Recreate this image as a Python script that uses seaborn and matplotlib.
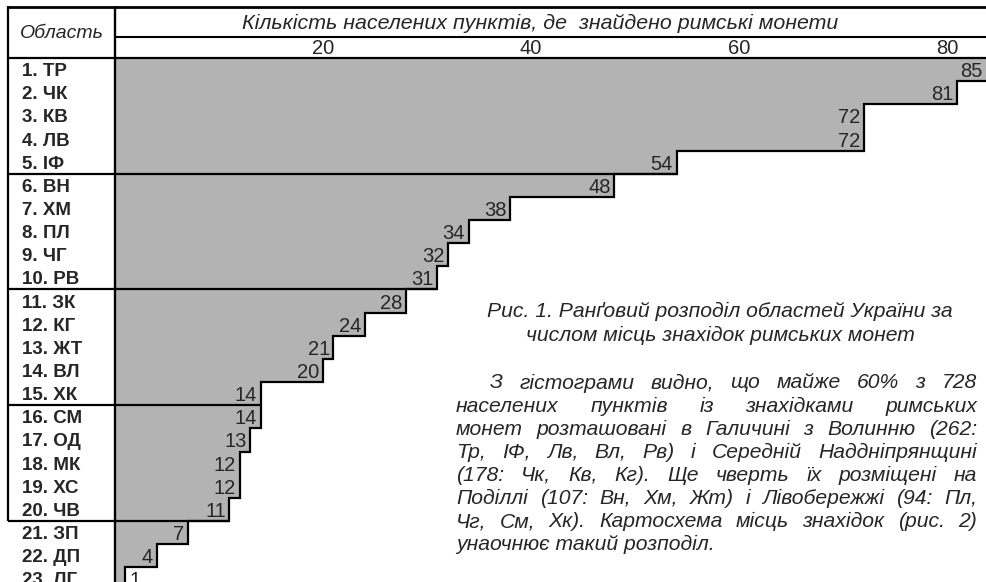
import matplotlib
matplotlib.use("Agg")
import matplotlib.pyplot as plt
import seaborn as sns
import pandas as pd
from matplotlib.lines import Line2D

# ---------------- data ----------------
regions = ["1. ТР", "2. ЧК", "3. КВ", "4. ЛВ", "5. ІФ", "6. ВН", "7. ХМ", "8. ПЛ",
           "9. ЧГ", "10. РВ", "11. ЗК", "12. КГ", "13. ЖТ", "14. ВЛ", "15. ХК",
           "16. СМ", "17. ОД", "18. МК", "19. ХС", "20. ЧВ", "21. ЗП", "22. ДП",
           "23. ЛГ"]
counts = [85, 81, 72, 72, 54, 48, 38, 34, 32, 31, 28, 24, 21, 20, 14, 14, 13, 12,
          12, 11, 7, 4, 1]
x_ticks = [20, 40, 60, 80]
group_ends = [5, 10, 15, 20]
column_title = "Область"
header_title = "Кількість населених пунктів, де  знайдено римські монети"
caption_lines = ["Рис. 1. Ранґовий розподіл областей України за",
                 "числом місць знахідок римських монет"]
paragraph_lines = [
    "З гістограми видно, що майже 60% з 728",
    "населених пунктів із знахідками римських",
    "монет розташовані в Галичині з Волинню (262:",
    "Тр, ІФ, Лв, Вл, Рв) і Середній Наддніпрянщині",
    "(178: Чк, Кв, Кг). Ще чверть їх розміщені на",
    "Поділлі (107: Вн, Хм, Жт) і Лівобережжі (94: Пл,",
    "Чг, См, Хк). Картосхема місць знахідок (рис. 2)",
    "унаочнює такий розподіл.",
]

# ---------------- style ----------------
sns.set_style("white")
plt.rcParams["font.family"] = ["Liberation Sans", "DejaVu Sans"]

W, H = 986, 582
fig = plt.figure(figsize=(W / 100, H / 100), dpi=100)

AX_LEFT, AX_TOP = 115, 58
ROW_PX = 23.15
PX_PER_UNIT = 10.4
ax = fig.add_axes([AX_LEFT / W, 0, (W - AX_LEFT) / W, (H - AX_TOP) / H])

df = pd.DataFrame({"region": regions, "count": counts})
sns.barplot(data=df, y="region", x="count", orient="h", color="#b3b3b3",
            saturation=1, width=1.0, linewidth=0, edgecolor="none", ax=ax)

xmax = (W - AX_LEFT) / PX_PER_UNIT
nrows_visible = (H - AX_TOP) / ROW_PX
ax.set_xlim(0, xmax)
ax.set_ylim(-0.5 + nrows_visible, -0.5)
for s in ax.spines.values():
    s.set_visible(False)
ax.set_xlabel("")
ax.set_ylabel("")

# top ticks in header row
ax.xaxis.tick_top()
ax.set_xticks(x_ticks)
ax.set_xticklabels([str(t) for t in x_ticks], fontsize=14.5)
ax.tick_params(axis="x", length=0, pad=0.3)

# region labels (left column)
ax.set_yticks(range(len(regions)))
ax.set_yticklabels(regions, ha="left", fontsize=13.5, fontweight="bold")
ax.tick_params(axis="y", length=0, pad=(AX_LEFT - 22) * 0.72)

# staircase outline
xs, ys = [], []
for i, v in enumerate(counts):
    xs += [v, v]
    ys += [i - 0.5, i + 0.5]
ax.plot(xs, ys, color="black", lw=1.6, solid_joinstyle="miter", zorder=5)

# group separators
x_left_data = -(AX_LEFT - 8) / PX_PER_UNIT
for g in group_ends:
    ax.plot([x_left_data, counts[g - 1]], [g - 0.5, g - 0.5], color="black",
            lw=1.6, clip_on=False, zorder=5, solid_capstyle="butt")

# value labels
for i, v in enumerate(counts):
    if v * PX_PER_UNIT < 14:
        ax.text(v + 0.35, i, str(v), ha="left", va="center_baseline",
                fontsize=14.5, zorder=6)
    else:
        xpos = min(v, xmax) - 0.35
        ax.text(xpos, i, str(v), ha="right", va="center_baseline",
                fontsize=14.5, zorder=6)


# frame lines in pixel coordinates
def fline(x0, y0, x1, y1, lw=1.5):
    fig.add_artist(Line2D([x0 / W, x1 / W], [1 - y0 / H, 1 - y1 / H],
                          transform=fig.transFigure, color="black", lw=lw,
                          solid_capstyle="butt"))


fline(8, 7, W, 7, lw=2.0)
fline(AX_LEFT, 37, W, 37, lw=1.5)
fline(8, AX_TOP, W, AX_TOP, lw=1.6)
fline(8, 6, 8, AX_TOP + 20 * ROW_PX, lw=1.6)
fline(AX_LEFT, 6, AX_LEFT, H, lw=1.7)

# header texts
fig.text(62 / W, 1 - 33 / H, column_title, ha="center", va="center",
         style="italic", fontsize=14)
fig.text(540 / W, 1 - 23 / H, header_title, ha="center", va="center",
         style="italic", fontsize=15.4)

FS = 15.2
# caption
for k, line in enumerate(caption_lines):
    fig.text(720 / W, 1 - (311 + 24 * k) / H, line, ha="center", va="center",
             style="italic", fontsize=FS)

# justified paragraph
renderer = fig.canvas.get_renderer()
P_LEFT, P_RIGHT, INDENT = 456, 977, 34
for k, line in enumerate(paragraph_lines):
    y = 1 - (383 + 23.1 * k) / H
    x0 = P_LEFT + (INDENT if k == 0 else 0)
    if k == len(paragraph_lines) - 1:
        fig.text(x0 / W, y, line, ha="left", va="center", style="italic",
                 fontsize=FS)
        continue
    words = line.split(" ")
    texts = [fig.text(0, y, w, ha="left", va="center", style="italic",
                      fontsize=FS) for w in words]
    widths = [t.get_window_extent(renderer).width for t in texts]
    gap = (P_RIGHT - x0 - sum(widths)) / (len(words) - 1)
    x = x0
    for t, wd in zip(texts, widths):
        t.set_x(x / W)
        x += wd + gap

fig.savefig("out.png", dpi=100)
